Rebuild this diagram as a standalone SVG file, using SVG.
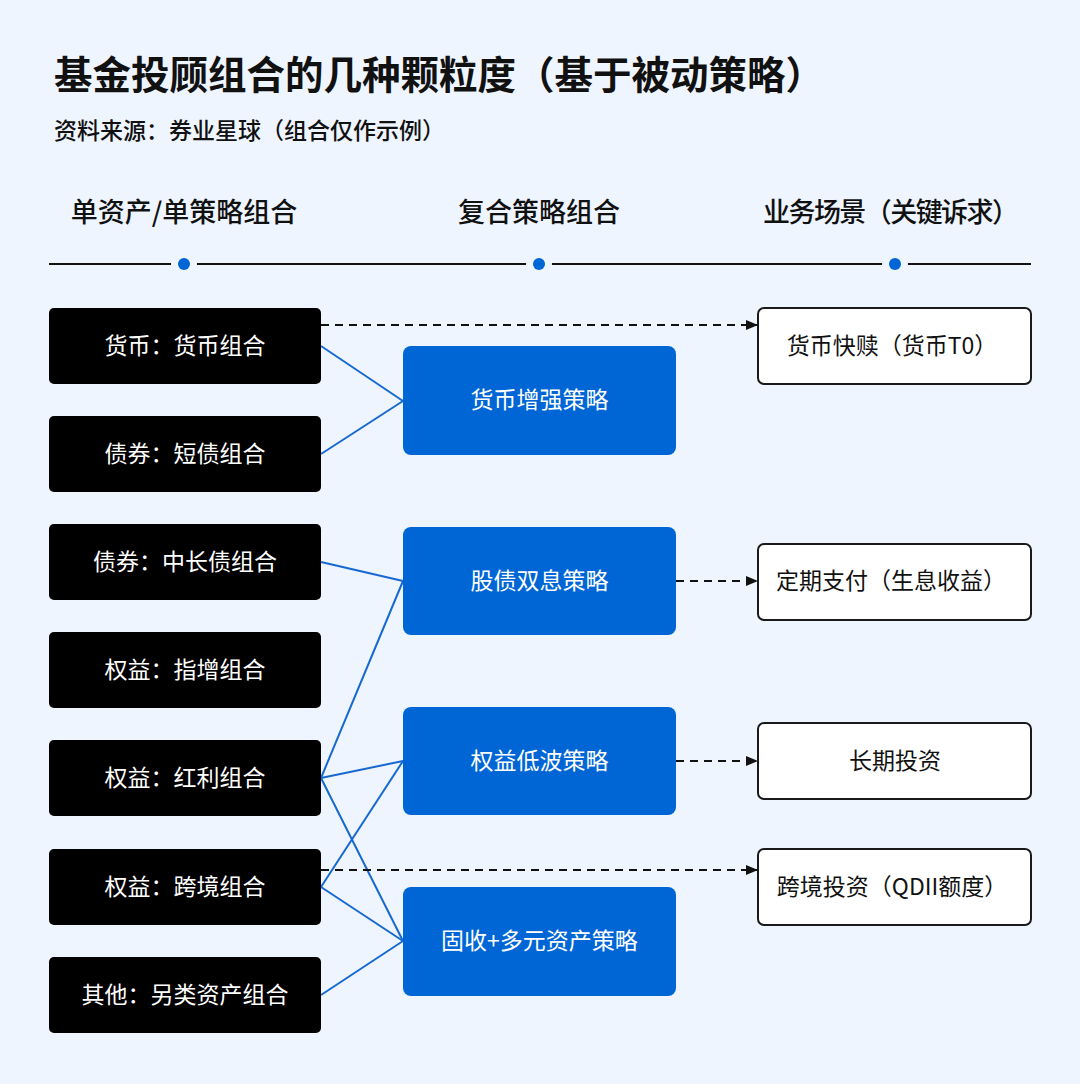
<svg xmlns="http://www.w3.org/2000/svg" width="1080" height="1084" viewBox="0 0 1080 1084">
<style>
text{font-family:"Noto Sans CJK SC","Noto Sans",sans-serif;}
.title{font-size:38.5px;font-weight:600;fill:#111;}
.sub{font-size:23px;font-weight:500;fill:#111;}
.head{font-size:27px;font-weight:500;fill:#111;text-anchor:middle;}
.bk rect{fill:#000;}
.bk text{fill:#fff;font-size:23px;text-anchor:middle;}
.bl rect{fill:#0066D6;}
.bl text{fill:#fff;font-size:23px;text-anchor:middle;}
.wh rect{fill:#fff;stroke:#1a1a1a;stroke-width:2;}
.wh text{fill:#111;font-size:23px;text-anchor:middle;}
.solid line{stroke:#1769D1;stroke-width:2;}
.dash line{stroke:#111;stroke-width:2;stroke-dasharray:8 6;}
</style>
<defs>
<marker id="ah" markerWidth="12" markerHeight="12" refX="11" refY="6" orient="auto" markerUnits="userSpaceOnUse">
<path d="M0,1 L12,6 L0,11 Z" fill="#111"/>
</marker>
</defs>
<rect width="1080" height="1084" fill="#EEF5FF"/>
<text class="title" x="54" y="89">基金投顾组合的几种颗粒度（基于被动策略）</text>
<text class="sub" x="54" y="139">资料来源：券业星球（组合仅作示例）</text>
<g id="headers">
<text class="head" x="184" y="222">单资产/单策略组合</text>
<text class="head" x="539" y="222">复合策略组合</text>
<text class="head" x="891" y="222" textLength="256">业务场景（关键诉求）</text>
<line x1="49" y1="264" x2="1031" y2="264" stroke="#111" stroke-width="2"/>
<circle cx="184" cy="264" r="13" fill="#EEF5FF"/>
<circle cx="184" cy="264" r="6" fill="#0066D6"/>
<circle cx="539" cy="264" r="13" fill="#EEF5FF"/>
<circle cx="539" cy="264" r="6" fill="#0066D6"/>
<circle cx="895" cy="264" r="13" fill="#EEF5FF"/>
<circle cx="895" cy="264" r="6" fill="#0066D6"/>
</g>
<g id="connectors">
<g class="solid">
<line x1="321" y1="346" x2="403" y2="401"/>
<line x1="321" y1="454" x2="403" y2="401"/>
<line x1="321" y1="562" x2="403" y2="581"/>
<line x1="321" y1="778" x2="403" y2="581"/>
<line x1="321" y1="778" x2="403" y2="761"/>
<line x1="321" y1="778" x2="403" y2="941"/>
<line x1="321" y1="887" x2="403" y2="761"/>
<line x1="321" y1="887" x2="403" y2="941"/>
<line x1="321" y1="995" x2="403" y2="941"/>
</g>
<g class="dash">
<line x1="321" y1="325" x2="757" y2="325" marker-end="url(#ah)"/>
<line x1="676" y1="581" x2="757" y2="581" marker-end="url(#ah)"/>
<line x1="676" y1="761" x2="757" y2="761" marker-end="url(#ah)"/>
<line x1="321" y1="870" x2="757" y2="870" marker-end="url(#ah)"/>
</g>
</g>
<g id="n-money" class="bk"><rect x="49" y="308" width="272" height="76" rx="5"/><text x="185" y="354">货币：货币组合</text></g>
<g id="n-shortbond" class="bk"><rect x="49" y="416" width="272" height="76" rx="5"/><text x="185" y="462">债券：短债组合</text></g>
<g id="n-longbond" class="bk"><rect x="49" y="524" width="272" height="76" rx="5"/><text x="185" y="570">债券：中长债组合</text></g>
<g id="n-index" class="bk"><rect x="49" y="632" width="272" height="76" rx="5"/><text x="185" y="678">权益：指增组合</text></g>
<g id="n-dividend" class="bk"><rect x="49" y="740" width="272" height="76" rx="5"/><text x="185" y="786">权益：红利组合</text></g>
<g id="n-cross" class="bk"><rect x="49" y="849" width="272" height="76" rx="5"/><text x="185" y="895">权益：跨境组合</text></g>
<g id="n-alt" class="bk"><rect x="49" y="957" width="272" height="76" rx="5"/><text x="185" y="1003">其他：另类资产组合</text></g>
<g id="s-money" class="bl"><rect x="403" y="346" width="273" height="109" rx="8"/><text x="539.5" y="408">货币增强策略</text></g>
<g id="s-dual" class="bl"><rect x="403" y="527" width="273" height="108" rx="8"/><text x="539.5" y="589">股债双息策略</text></g>
<g id="s-lowvol" class="bl"><rect x="403" y="707" width="273" height="108" rx="8"/><text x="539.5" y="769">权益低波策略</text></g>
<g id="s-fixed" class="bl"><rect x="403" y="887" width="273" height="109" rx="8"/><text x="539.5" y="949">固收+多元资产策略</text></g>
<g id="b-redeem" class="wh"><rect x="758" y="308" width="273" height="76" rx="6"/><text x="892" y="354">货币快赎（货币T0）</text></g>
<g id="b-pay" class="wh"><rect x="758" y="544" width="273" height="76" rx="6"/><text x="891" y="589">定期支付（生息收益）</text></g>
<g id="b-long" class="wh"><rect x="758" y="723" width="273" height="76" rx="6"/><text x="895" y="769">长期投资</text></g>
<g id="b-qdii" class="wh"><rect x="758" y="849" width="273" height="76" rx="6"/><text x="892" y="895">跨境投资（QDII额度）</text></g>
</svg>
